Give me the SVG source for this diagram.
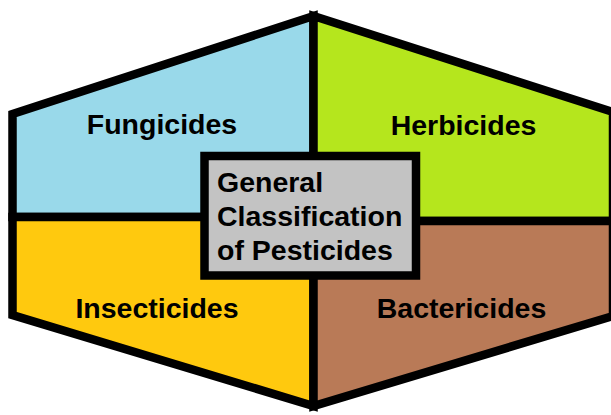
<svg xmlns="http://www.w3.org/2000/svg" width="611" height="415" viewBox="0 0 611 415">
<style>
.q{stroke:#000;stroke-width:8.5;stroke-linejoin:miter}
.t{font-family:"Liberation Sans",Arial,sans-serif;font-weight:bold;font-size:28.5px;fill:#000}
.m{text-anchor:middle}
</style>
<rect width="611" height="415" fill="#fff"/>
<g id="fungicides">
<polygon class="q" fill="#99D9EA" points="12.5,114 313.5,16 313.5,217 12.5,217"/>
<text class="t m" x="162" y="134">Fungicides</text>
</g>
<g id="herbicides">
<polygon class="q" fill="#B5E61D" points="313.5,16 613,112 613,221 313.5,221"/>
<text class="t m" x="463.5" y="135">Herbicides</text>
</g>
<g id="insecticides">
<polygon class="q" fill="#FFC90E" points="12.5,217 313.5,217 313.5,406 12.5,315"/>
<text class="t m" x="157" y="318">Insecticides</text>
</g>
<g id="bactericides">
<polygon class="q" fill="#B97A57" points="313.5,221 613,221 613,316 313.5,406"/>
<text class="t m" x="461.5" y="318">Bactericides</text>
</g>
<g id="center">
<rect class="q" fill="#C3C3C3" x="204.5" y="156" width="211.5" height="119.5"/>
<text class="t" x="217" y="192">General</text>
<text class="t" x="217" y="226">Classification</text>
<text class="t" x="217" y="260">of Pesticides</text>
</g>
<g id="connectors"></g>
</svg>
